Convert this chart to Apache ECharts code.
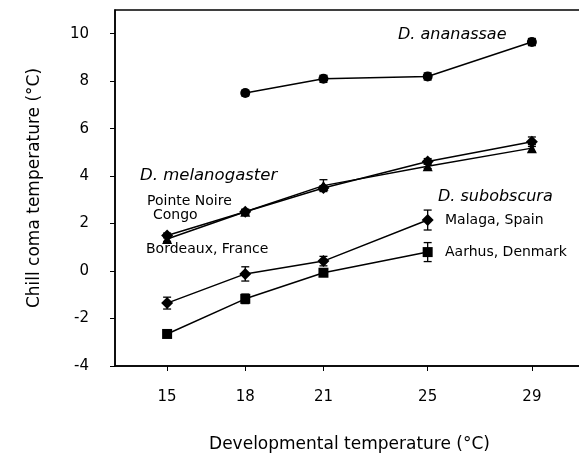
<!DOCTYPE html>
<html>
<head>
<meta charset="utf-8">
<script src="https://cdn.jsdelivr.net/npm/echarts@6/dist/echarts.min.js"></script>
<style>
  html, body { margin: 0; padding: 0; background: #fff; }
  #chart { width: 579px; height: 460px; }
</style>
</head>
<body>
<div id="chart"></div>
<script>
// developmental temperatures (x) and chill coma temperatures (y)
const temps = [15, 18, 21, 25, 29];
const xTicks = [15, 18, 21, 25, 29];
const yTicks = [-4, -2, 0, 2, 4, 6, 8, 10];

const ananassae = [null, 7.5, 8.1, 8.2, 9.65];
const ananassaeErr = [null, 0.12, 0.15, 0.15, 0.15];
const pointeNoire = [1.5, 2.5, 3.5, 4.62, 5.45];
const pointeNoireErr = [0.1, 0.1, 0.1, 0.12, 0.2];
const bordeaux = [1.35, 2.5, 3.6, 4.42, 5.18];
const bordeauxErr = [0.1, 0.1, 0.25, 0.1, 0.15];
const malaga = [-1.35, -0.12, 0.42, 2.15, null];
const malagaErr = [0.25, 0.3, 0.2, 0.42, null];
const aarhus = [-2.65, -1.17, -0.07, 0.8, null];
const aarhusErr = [0.1, 0.2, 0.1, 0.4, null];

const font = 'DejaVu Sans';

function pairs(vals) {
  return temps.map((t, i) => vals[i] == null ? null : [t, vals[i]]).filter(Boolean);
}
function errRows(vals, errs) {
  return temps.map((t, i) => vals[i] == null ? null : [t, vals[i] - errs[i], vals[i] + errs[i]]).filter(Boolean);
}

function lineSeries(vals, symbol, size) {
  return {
    type: 'line',
    data: pairs(vals),
    symbol: symbol,
    symbolSize: size,
    lineStyle: { color: '#000', width: 1.5 },
    itemStyle: { color: '#000' },
    z: 3
  };
}

function errSeries(vals, errs) {
  return {
    type: 'custom',
    data: errRows(vals, errs),
    z: 2,
    renderItem: function (params, api) {
      const lo = api.coord([api.value(0), api.value(1)]);
      const hi = api.coord([api.value(0), api.value(2)]);
      const w = 4;
      const st = { stroke: '#000', lineWidth: 1.3 };
      return {
        type: 'group',
        children: [
          { type: 'line', shape: { x1: lo[0], y1: lo[1], x2: hi[0], y2: hi[1] }, style: st },
          { type: 'line', shape: { x1: lo[0] - w, y1: lo[1], x2: lo[0] + w, y2: lo[1] }, style: st },
          { type: 'line', shape: { x1: hi[0] - w, y1: hi[1], x2: hi[0] + w, y2: hi[1] }, style: st }
        ]
      };
    }
  };
}

function note(text, x, y, size, italic) {
  return {
    type: 'text', left: x, top: y,
    style: { text: text, fill: '#000', font: (italic ? 'italic ' : '') + size + 'px "' + font + '"' }
  };
}

const myChart = echarts.init(document.getElementById('chart'));
const option = {
  animation: false,
  // plot runs past the right edge of the window, like the cropped original
  grid: {
    left: 115, top: 10, width: 469, height: 356,
    outerBoundsMode: 'none', containLabel: false,
    show: true, borderColor: '#000', borderWidth: 1.5
  },
  xAxis: {
    type: 'value', min: 13, max: 31,
    name: 'Developmental temperature (°C)', nameLocation: 'middle', nameGap: 70,
    nameTextStyle: { fontFamily: font, fontSize: 17, color: '#000' },
    axisLine: { onZero: false, lineStyle: { color: '#000', width: 1.5 } },
    axisTick: { customValues: xTicks, length: 5, lineStyle: { color: '#000' } },
    axisLabel: { customValues: xTicks, margin: 24, fontFamily: font, fontSize: 15, color: '#000' },
    splitLine: { show: false }
  },
  yAxis: {
    type: 'value', min: -4, max: 11,
    name: 'Chill coma temperature (°C)', nameLocation: 'middle', nameGap: 72, nameRotate: 90,
    nameTextStyle: { fontFamily: font, fontSize: 17, color: '#000' },
    axisLine: { show: true, onZero: false, lineStyle: { color: '#000', width: 1.5 } },
    axisTick: { show: true, customValues: yTicks, length: 5, lineStyle: { color: '#000' } },
    axisLabel: { customValues: yTicks, margin: 26, fontFamily: font, fontSize: 15, color: '#000' },
    splitLine: { show: false }
  },
  graphic: [
    note('D. ananassae', 398, 27, 16, true),
    note('D. melanogaster', 140, 167, 16.5, true),
    note('Pointe Noire', 147, 194, 14, false),
    note('Congo', 153, 208, 14, false),
    note('Bordeaux, France', 146, 242, 14, false),
    note('D. subobscura', 438, 189, 16, true),
    note('Malaga, Spain', 445, 213, 14, false),
    note('Aarhus, Denmark', 445, 245, 14, false)
  ],
  series: [
    errSeries(ananassae, ananassaeErr),
    errSeries(pointeNoire, pointeNoireErr),
    errSeries(bordeaux, bordeauxErr),
    errSeries(malaga, malagaErr),
    errSeries(aarhus, aarhusErr),
    lineSeries(ananassae, 'circle', 10),
    lineSeries(pointeNoire, 'diamond', 12),
    lineSeries(bordeaux, 'triangle', 10),
    lineSeries(malaga, 'diamond', 12),
    lineSeries(aarhus, 'rect', 10)
  ]
};
option && myChart.setOption(option);
</script>
</body>
</html>
